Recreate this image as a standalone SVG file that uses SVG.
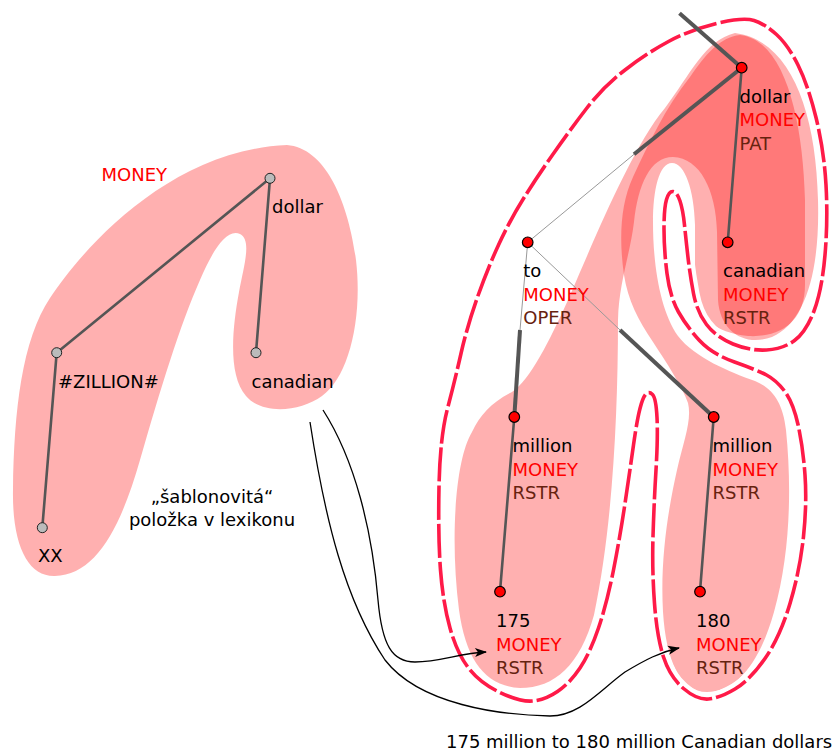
<svg xmlns="http://www.w3.org/2000/svg" width="833" height="751" viewBox="0 0 833 751">
<style>
text{font-family:"DejaVu Sans","Liberation Sans",sans-serif;font-size:18px;fill:#000}
.m{fill:#ff0000}
.r{fill:#66220f}
.blob{fill:#ff0000;fill-opacity:0.31}
.halo{fill:none;stroke:#fff;stroke-width:12;stroke-linejoin:round}
.dash{fill:none;stroke:#ff1a48;stroke-width:3.6;stroke-dasharray:34,4}
.e{stroke:#555;stroke-width:2.6;fill:none;stroke-linecap:round}
.et{stroke:#555;stroke-width:4;fill:none}
.th{stroke:#999;stroke-width:1;fill:none}
.gn{fill:#bbb;stroke:#222;stroke-width:1}
.rn{fill:#ff0000;stroke:#000;stroke-width:1.2}
.arr{fill:none;stroke:#000;stroke-width:1.3;marker-end:url(#ah)}
</style>
<defs>
<marker id="ah" markerUnits="userSpaceOnUse" markerWidth="14" markerHeight="10" refX="0" refY="0" viewBox="-12 -5 14 10" orient="auto">
<path d="M1,0 L-11,-4.5 L-8,0 L-11,4.5 Z" fill="#000"/>
</marker>
</defs>
<g id="regions">
<path id="template-blob" class="blob" d="M 287,145 C 325,148 348,200 356,260 C 363,320 348,378 322,396 C 300,412 262,415 246,396 C 228,375 232,330 239,292 C 244,265 252,240 240,234 C 226,228 212,252 200,280 C 180,325 160,390 140,460 C 120,530 95,575 55,576 C 28,577 12,545 13,490 C 14,410 22,340 50,298 C 83,248 170,150 287,145 Z"/>
<path id="instance-175" class="blob" d="M 735,33 C 790,40 816,110 818,200 C 820,270 806,322 772,337 C 745,347 720,332 718,300 L 717,232 C 716,190 700,158 673,157 C 650,157 638,185 634,222 C 630,255 619,282 618,320 C 618,420 612,530 594,615 C 580,665 555,688 520,688 C 485,686 466,660 459,610 C 450,540 455,460 472,432 C 480,415 492,402 512,392 C 530,380 550,340 568,300 C 590,250 630,150 665,108 C 690,75 705,40 735,33 Z"/>
<path id="instance-180" class="blob" d="M 740,35 C 785,40 803,120 805,200 L 805,285 C 805,320 782,338 748,336 C 715,333 695,315 695,295 L 695,225 C 694,190 685,163 672,163 C 659,163 653,190 653,222 C 653,265 660,310 678,336 C 695,358 730,372 755,381 C 772,388 783,402 786,430 C 792,490 790,555 774,612 C 760,662 737,692 707,692 C 680,692 666,660 663,612 C 660,560 668,510 677,470 C 684,440 692,420 688,403 C 682,386 666,362 653,342 C 638,320 628,300 624,275 C 619,240 620,205 633,177 C 648,145 665,108 690,77 C 705,55 720,37 740,35 Z"/>
</g>
<g id="boundary">
<path class="halo" d="M 754,20.5 Q 743,17 716.5,23.5 Q 690,30 668.5,41.5 Q 647,53 625,70 Q 603,87 586.5,108.5 Q 570,130 553.5,153.5 Q 537,177 523.5,198.5 Q 510,220 498.5,245 Q 487,270 477,298.5 Q 467,327 461,353.5 Q 455,380 447.5,408.5 Q 440,437 439,487 Q 438,537 440.5,570 Q 443,603 450,628 Q 457,653 468.5,668 Q 480,683 500,692.5 Q 520,702 532.5,701 Q 545,700 557.5,691.5 Q 570,683 580,668 Q 590,653 598.5,628 Q 607,603 613.5,570 Q 620,537 625,503.5 Q 630,470 633.5,445 Q 637,420 640,408.5 Q 643,397 646,394 Q 649,391 652.5,394.5 Q 656,398 657,417.5 Q 658,437 656,470 Q 654,503 653,536.5 Q 652,570 654.5,603.5 Q 657,637 663.5,657 Q 670,677 683.5,688.5 Q 697,700 708.5,699 Q 720,698 735,689 Q 750,680 765,658.5 Q 780,637 790,603.5 Q 800,570 803.5,536.5 Q 807,503 805,475 Q 803,447 798,424.5 Q 793,402 784.5,391 Q 776,380 766.5,375 Q 757,370 734.5,362 Q 712,354 699.5,340.5 Q 687,327 678.5,312 Q 670,297 667,273.5 Q 664,250 664,229 Q 664,208 666.5,199.5 Q 669,191 673,191.5 Q 677,192 680,201 Q 683,210 684.5,225 Q 686,240 688,257.5 Q 690,275 693.5,293.5 Q 697,312 706.5,324.5 Q 716,337 733,344 Q 750,351 766.5,350 Q 783,349 794.5,340.5 Q 806,332 814,311 Q 822,290 825,255 Q 828,220 826,185 Q 824,150 816,117.5 Q 808,85 798,65 Q 788,45 776.5,34.5 Q 765,24 754,20.5 Z"/>
<path class="dash" d="M 754,20.5 Q 743,17 716.5,23.5 Q 690,30 668.5,41.5 Q 647,53 625,70 Q 603,87 586.5,108.5 Q 570,130 553.5,153.5 Q 537,177 523.5,198.5 Q 510,220 498.5,245 Q 487,270 477,298.5 Q 467,327 461,353.5 Q 455,380 447.5,408.5 Q 440,437 439,487 Q 438,537 440.5,570 Q 443,603 450,628 Q 457,653 468.5,668 Q 480,683 500,692.5 Q 520,702 532.5,701 Q 545,700 557.5,691.5 Q 570,683 580,668 Q 590,653 598.5,628 Q 607,603 613.5,570 Q 620,537 625,503.5 Q 630,470 633.5,445 Q 637,420 640,408.5 Q 643,397 646,394 Q 649,391 652.5,394.5 Q 656,398 657,417.5 Q 658,437 656,470 Q 654,503 653,536.5 Q 652,570 654.5,603.5 Q 657,637 663.5,657 Q 670,677 683.5,688.5 Q 697,700 708.5,699 Q 720,698 735,689 Q 750,680 765,658.5 Q 780,637 790,603.5 Q 800,570 803.5,536.5 Q 807,503 805,475 Q 803,447 798,424.5 Q 793,402 784.5,391 Q 776,380 766.5,375 Q 757,370 734.5,362 Q 712,354 699.5,340.5 Q 687,327 678.5,312 Q 670,297 667,273.5 Q 664,250 664,229 Q 664,208 666.5,199.5 Q 669,191 673,191.5 Q 677,192 680,201 Q 683,210 684.5,225 Q 686,240 688,257.5 Q 690,275 693.5,293.5 Q 697,312 706.5,324.5 Q 716,337 733,344 Q 750,351 766.5,350 Q 783,349 794.5,340.5 Q 806,332 814,311 Q 822,290 825,255 Q 828,220 826,185 Q 824,150 816,117.5 Q 808,85 798,65 Q 788,45 776.5,34.5 Q 765,24 754,20.5 Z"/>
</g>
<g id="connectors">
<line class="e" x1="56.7" y1="352.7" x2="270" y2="178.3"/>
<line class="e" x1="270" y1="178.3" x2="256" y2="352.7"/>
<line class="e" x1="56.7" y1="352.7" x2="42.3" y2="527.7"/>
<line class="et" x1="679.5" y1="13.3" x2="741.7" y2="67.7"/>
<line class="et" x1="741.7" y1="67.7" x2="634" y2="154.3"/>
<line class="th" x1="634" y1="154.3" x2="527.7" y2="242.3"/>
<line class="e" x1="741.7" y1="67.7" x2="727.7" y2="242.3"/>
<line class="th" x1="527.7" y1="242.3" x2="520" y2="330"/>
<line class="et" x1="520" y1="330" x2="514.3" y2="417"/>
<line class="th" x1="527.7" y1="242.3" x2="620" y2="330"/>
<line class="et" x1="620" y1="330" x2="713.7" y2="417"/>
<line class="e" x1="514.3" y1="417" x2="500" y2="591.7"/>
<line class="e" x1="713.7" y1="417" x2="700" y2="591.7"/>
<path class="arr" d="M 323,410 C 355,460 372,530 378,600 C 382,645 392,662 415,662 C 440,662 460,653 486,652"/>
<path class="arr" d="M 310,422 C 325,520 345,600 385,660 C 420,705 500,715 550,716 C 580,716 600,690 625,672 C 645,660 660,652 679,648"/>
</g>
<g id="t-dollar"><circle class="gn" cx="270" cy="178.3" r="5"/><text x="272" y="213">dollar</text></g>
<g id="t-zillion"><circle class="gn" cx="56.7" cy="352.7" r="5"/><text x="58" y="388">#ZILLION#</text></g>
<g id="t-canadian"><circle class="gn" cx="256" cy="352.7" r="5"/><text x="251.5" y="388">canadian</text></g>
<g id="t-xx"><circle class="gn" cx="42.3" cy="527.7" r="5"/><text x="38" y="562">XX</text></g>
<g id="t-labels">
<text class="m" x="101.5" y="181">MONEY</text>
<text x="212" y="503" text-anchor="middle">„šablonovitá“</text>
<text x="212" y="526" text-anchor="middle">položka v lexikonu</text>
</g>
<g id="n-dollar"><circle class="rn" cx="741.7" cy="67.7" r="5.3"/><text x="739.5" y="102.5">dollar</text><text class="m" x="739.5" y="126">MONEY</text><text class="r" x="739.5" y="149.5">PAT</text></g>
<g id="n-to"><circle class="rn" cx="527.7" cy="242.3" r="5.3"/><text x="523.3" y="277">to</text><text class="m" x="523.3" y="300.5">MONEY</text><text class="r" x="523.3" y="324">OPER</text></g>
<g id="n-canadian"><circle class="rn" cx="727.7" cy="242.3" r="5.3"/><text x="723" y="277">canadian</text><text class="m" x="723" y="300.5">MONEY</text><text class="r" x="723" y="324">RSTR</text></g>
<g id="n-million1"><circle class="rn" cx="514.3" cy="417" r="5.3"/><text x="512.5" y="452">million</text><text class="m" x="512.5" y="475.5">MONEY</text><text class="r" x="512.5" y="499">RSTR</text></g>
<g id="n-million2"><circle class="rn" cx="713.7" cy="417" r="5.3"/><text x="712.5" y="452">million</text><text class="m" x="712.5" y="475.5">MONEY</text><text class="r" x="712.5" y="499">RSTR</text></g>
<g id="n-175"><circle class="rn" cx="500" cy="591.7" r="5.3"/><text x="496" y="627">175</text><text class="m" x="496" y="650.5">MONEY</text><text class="r" x="496" y="674">RSTR</text></g>
<g id="n-180"><circle class="rn" cx="700" cy="591.7" r="5.3"/><text x="696" y="627">180</text><text class="m" x="696" y="650.5">MONEY</text><text class="r" x="696" y="674">RSTR</text></g>
<g id="caption"><text x="446" y="748">175 million to 180 million Canadian dollars</text></g>
</svg>
